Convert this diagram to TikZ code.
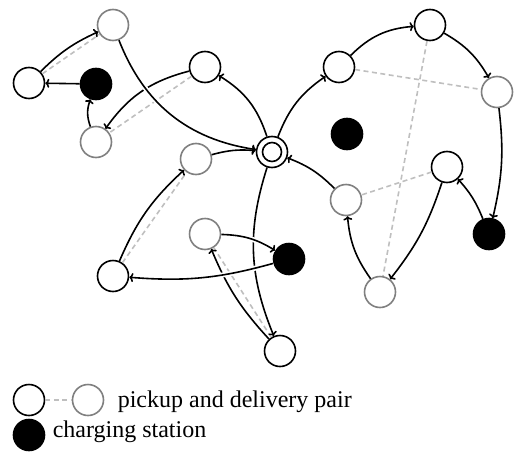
\documentclass[tikz,border=0pt]{standalone}
\usepackage{fontspec}
\setmainfont{Liberation Serif}
\usepackage{tikz}
\usetikzlibrary{arrows.meta}

\definecolor{delgray}{gray}{0.5}
\definecolor{pairgray}{gray}{0.75}

\begin{document}
\begin{tikzpicture}[x=1pt,y=-1pt,line width=1.6pt,
    stop/.style={circle,draw,fill=white,minimum size=31pt,inner sep=0pt},
    pick/.style={stop},
    drop/.style={stop,draw=delgray},
    charge/.style={stop,fill=black},
    depot/.style={stop,path picture={\draw (path picture bounding box.center) circle (9.5pt);}},
    pair/.style={draw=pairgray,dash pattern=on 5pt off 3.5pt},
    route/.style={-{To[length=4pt,width=9pt]}},
    halo/.style={preaction={-,draw=white,line width=5pt}},
    font=\fontsize{24}{28}\selectfont]
    \useasboundingbox (0,0) rectangle (518,452);

    % customers, stations and depot
    \node [depot] (depot) at (272,152) {};
    \node [pick] (p1) at (29,83) {};
    \node [drop] (d1) at (113,25) {};
    \node [pick] (p2) at (205,67) {};
    \node [drop] (d2) at (96,142) {};
    \node [pick] (p3) at (113,276) {};
    \node [drop] (d3) at (196,159) {};
    \node [pick] (p4) at (280,351) {};
    \node [drop] (d4) at (205,234) {};
    \node [pick] (p5) at (339,67) {};
    \node [drop] (d5) at (497,92) {};
    \node [pick] (p6) at (430,25) {};
    \node [drop] (d6) at (380,292) {};
    \node [pick] (p7) at (447,167) {};
    \node [drop] (d7) at (346,200) {};
    \node [charge] (s1) at (96,84) {};
    \node [charge] (s2) at (347,134) {};
    \node [charge] (s3) at (489,234) {};
    \node [charge] (s4) at (289,259) {};

    \foreach \n in {1,...,7}
        \draw [pair] (p\n) -- (d\n);

    % first route
    \draw [route] (depot) to [bend right=20] (p2);
    \draw [route] (p2) to [bend right=20] (d2);
    \draw [route] (d2) to [bend left=20] (s1);
    \draw [route] (s1) -- (p1);
    \draw [route] (p1) to [bend left=10] (d1);
    \draw [route,halo] (d1) to [bend right=30] (depot);

    % second route
    \draw [route] (depot) to [bend right=20] (p4);
    \draw [route] (p4) to [bend left=10] (d4);
    \draw [route,halo] (d4) to [bend left=15] (s4);
    \draw [route,halo] (s4) to [bend left=10] (p3);
    \draw [route] (p3) to [bend left=12] (d3);
    \draw [route] (d3) to [bend left=10] (depot);

    % third route
    \draw [route] (depot) to [bend left=17] (p5);
    \draw [route] (p5) to [bend left=20] (p6);
    \draw [route] (p6) to [bend left=15] (d5);
    \draw [route] (d5) to [bend left=10] (s3);
    \draw [route] (s3) to [bend right=10] (p7);
    \draw [route] (p7) to [bend left=10] (d6);
    \draw [route] (d6) to [bend left=15] (d7);
    \draw [route] (d7) to [bend right=12] (depot);

    % legend
    \node [pick] (lp) at (29,400) {};
    \node [drop] (ld) at (88,400) {};
    \node [charge] (ls) at (29,435) {};
    \draw [pair] (lp) -- (ld);
    \node [anchor=base west,inner sep=0pt] (lpair) at (117,407) {pickup and delivery pair};
    \node [anchor=base west,inner sep=0pt] (lcharge) at (52,437.5) {charging station};
\end{tikzpicture}
\end{document}
